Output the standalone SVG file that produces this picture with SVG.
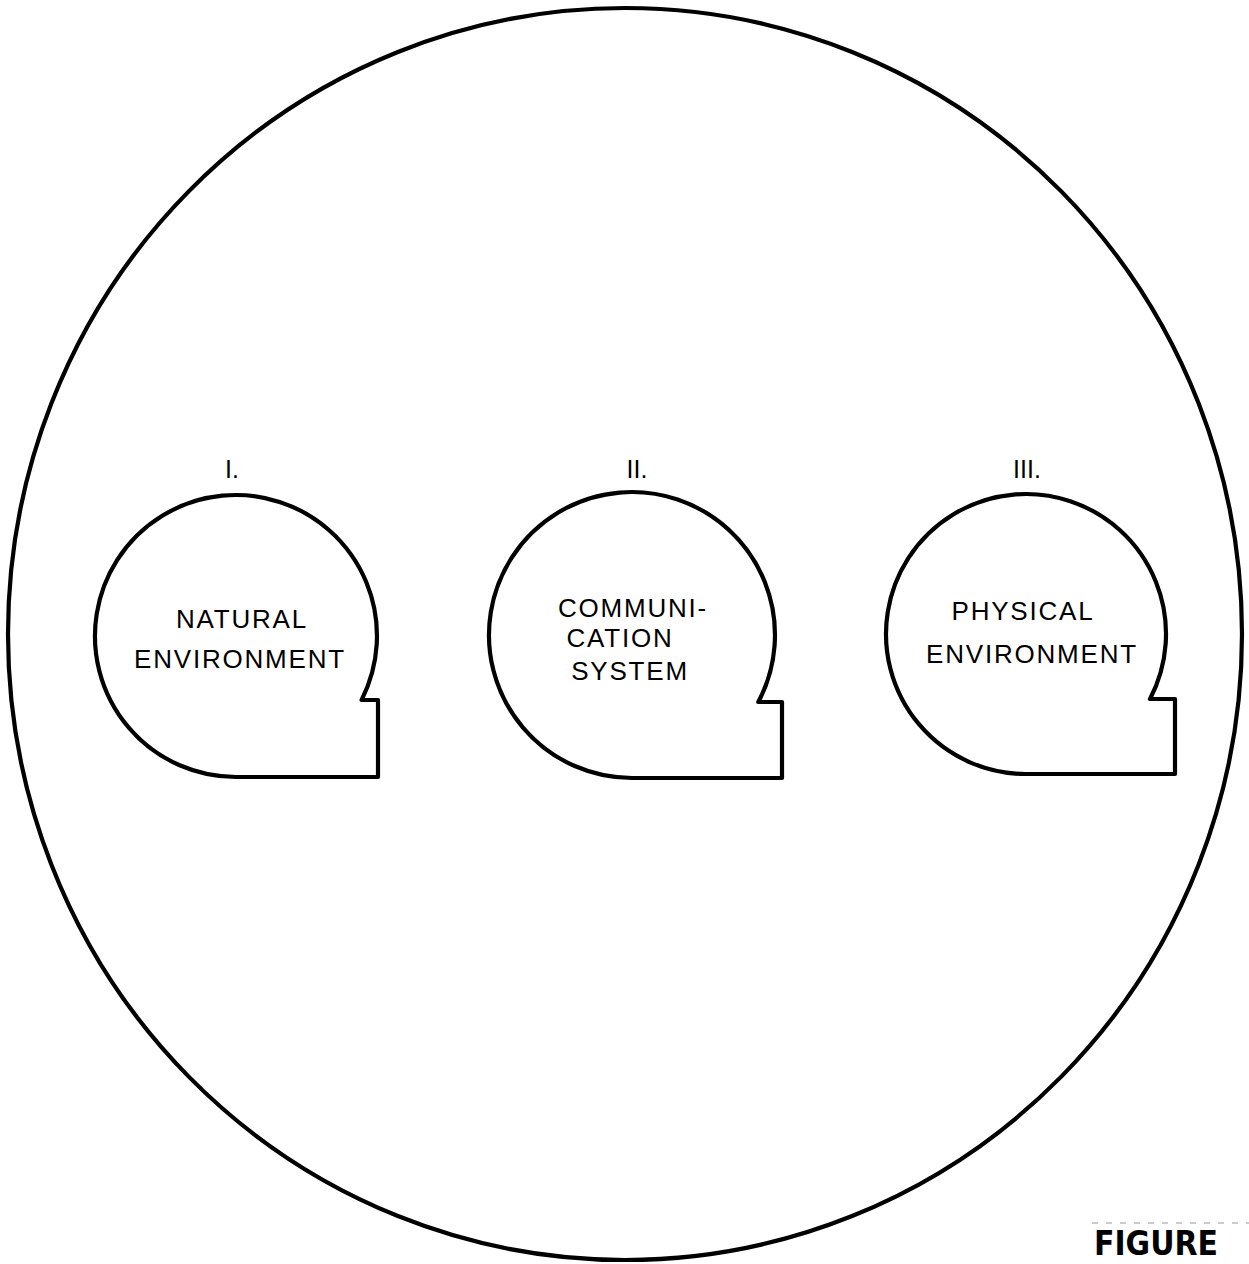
<svg xmlns="http://www.w3.org/2000/svg" width="1249" height="1264" viewBox="0 0 1249 1264">
<style>
.outline{fill:none;stroke:#000;stroke-width:4.2;stroke-linejoin:round}
.lbl{font-family:"Liberation Sans",Arial,sans-serif;font-size:26px;letter-spacing:1.8px;fill:#000;text-anchor:middle}
.num{font-family:"Liberation Sans",Arial,sans-serif;font-size:25px;fill:#000;text-anchor:middle}
.fig{font-family:"Liberation Sans Narrow","DejaVu Sans Condensed","Liberation Sans",sans-serif;font-size:34px;font-weight:bold;fill:#000}
</style>
<rect width="1249" height="1264" fill="#fff"/>
<g id="frame">
<ellipse cx="625" cy="634" rx="617" ry="626" class="outline"/>
</g>
<g id="node-1">
<path class="outline" d="M236 777 A141 141 0 1 1 361.6 700 L378 700 L378 777 Z"/>
<text class="num" x="232" y="478">I.</text>
<text class="lbl" x="242" y="628">NATURAL</text>
<text class="lbl" x="240" y="668">ENVIRONMENT</text>
</g>
<g id="node-2">
<path class="outline" d="M632 778 A143 143 0 1 1 758.3 702 L782 702 L782 778 Z"/>
<text class="num" x="637" y="478">II.</text>
<text class="lbl" x="633" y="617">COMMUNI-</text>
<text class="lbl" x="620" y="647">CATION</text>
<text class="lbl" x="630" y="680">SYSTEM</text>
</g>
<g id="node-3">
<path class="outline" d="M1026 774 A140 140 0 1 1 1150 699 L1175 699 L1175 774 Z"/>
<text class="num" x="1027" y="478">III.</text>
<text class="lbl" x="1023" y="620">PHYSICAL</text>
<text class="lbl" x="1032" y="663">ENVIRONMENT</text>
</g>
<g id="connectors"/>
<g id="caption">
<line x1="1092" y1="1223" x2="1249" y2="1223" stroke="#bbb" stroke-width="1.5" stroke-dasharray="6 8"/>
<text class="fig" x="1094" y="1255" textLength="124" lengthAdjust="spacingAndGlyphs">FIGURE</text>
</g>
</svg>
